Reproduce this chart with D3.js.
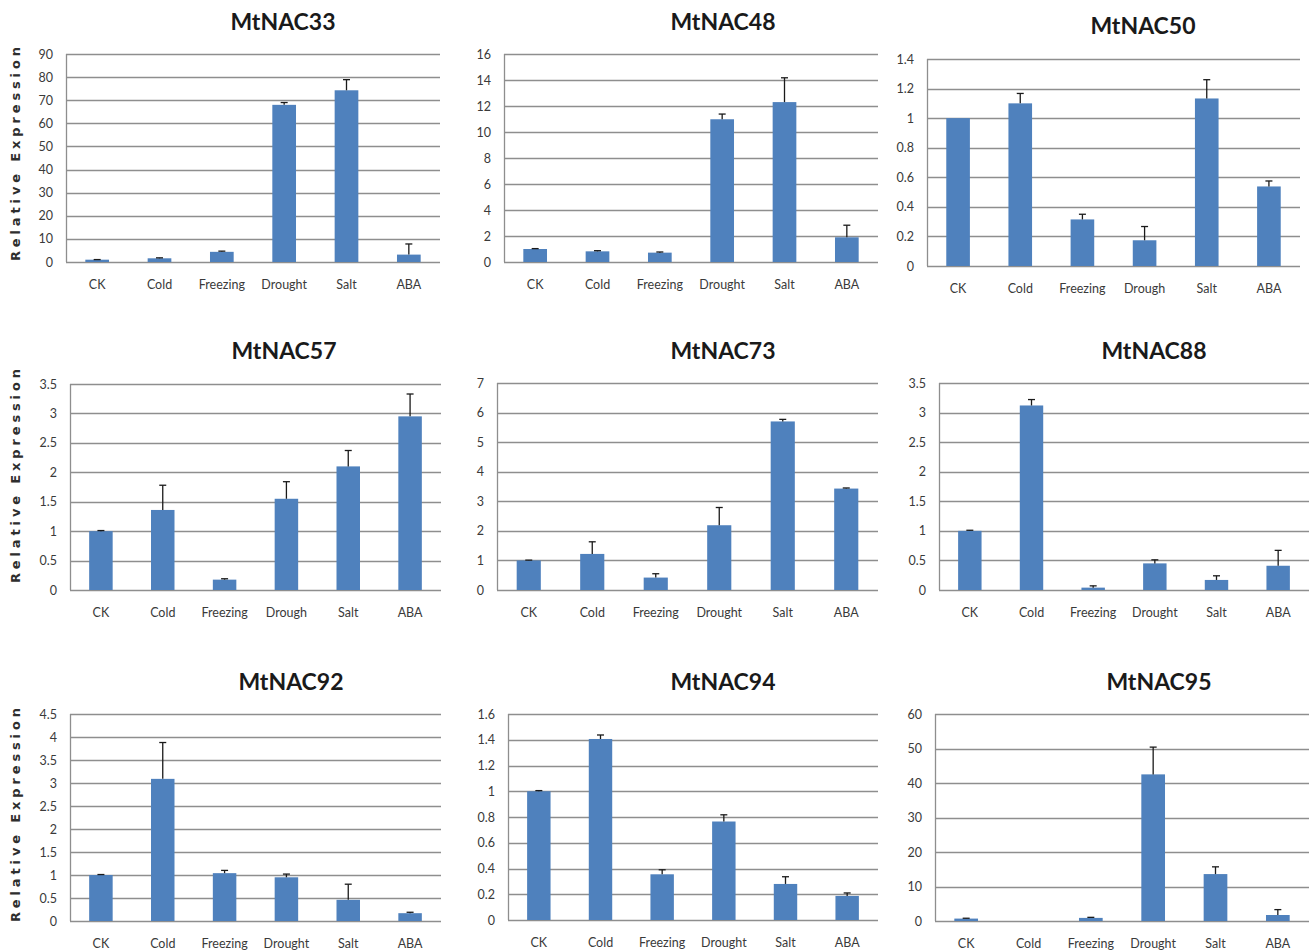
<!DOCTYPE html>
<html>
<head>
<meta charset="utf-8">
<script src="https://cdn.jsdelivr.net/npm/d3@7"></script>
<style>
  html, body { margin: 0; padding: 0; background: #fff; }
  svg { display: block; }
</style>
</head>
<body>
<svg id="chart" width="1309" height="952"></svg>
<script>
// Treatments on the x axis
const categories = ["CK", "Cold", "Freezing", "Drought", "Salt", "ABA"];
const categoriesAlt = ["CK", "Cold", "Freezing", "Drough", "Salt", "ABA"];

// Gene names (panel titles)
const genes = ["MtNAC33", "MtNAC48", "MtNAC50", "MtNAC57", "MtNAC73", "MtNAC88", "MtNAC92", "MtNAC94", "MtNAC95"];

// Relative expression means and standard errors per gene
const mtnac33 = [1.0, 1.6, 4.4, 68.0, 74.3, 3.2];
const mtnac33Err = [0.05, 0.2, 0.3, 1.0, 4.6, 4.6];
const mtnac48 = [1.0, 0.82, 0.72, 10.98, 12.3, 1.9];
const mtnac48Err = [0.03, 0.05, 0.05, 0.4, 1.87, 0.93];
const mtnac50 = [1.0, 1.10, 0.315, 0.174, 1.133, 0.538];
const mtnac50Err = [0.0, 0.067, 0.035, 0.093, 0.127, 0.037];
const mtnac57 = [1.0, 1.36, 0.176, 1.55, 2.10, 2.95];
const mtnac57Err = [0.01, 0.42, 0.015, 0.29, 0.27, 0.38];
const mtnac73 = [1.0, 1.22, 0.42, 2.19, 5.70, 3.43];
const mtnac73Err = [0.01, 0.41, 0.13, 0.60, 0.07, 0.02];
const mtnac88 = [1.0, 3.12, 0.04, 0.45, 0.17, 0.41];
const mtnac88Err = [0.01, 0.10, 0.03, 0.06, 0.07, 0.26];
const mtnac92 = [1.0, 3.09, 1.04, 0.95, 0.46, 0.17];
const mtnac92Err = [0.01, 0.79, 0.06, 0.07, 0.34, 0.02];
const mtnac94 = [1.0, 1.406, 0.355, 0.765, 0.28, 0.187];
const mtnac94Err = [0.005, 0.031, 0.035, 0.052, 0.056, 0.023];
const mtnac95 = [0.7, 0, 0.9, 42.5, 13.6, 1.74];
const mtnac95Err = [0.1, 0, 0.16, 7.9, 2.1, 1.56];

// Y-axis tick labels per gene
const ticks33 = [0, 10, 20, 30, 40, 50, 60, 70, 80, 90];
const ticks48 = [0, 2, 4, 6, 8, 10, 12, 14, 16];
const ticks50 = [0, 0.2, 0.4, 0.6, 0.8, 1, 1.2, 1.4];
const ticks57 = [0, 0.5, 1, 1.5, 2, 2.5, 3, 3.5];
const ticks73 = [0, 1, 2, 3, 4, 5, 6, 7];
const ticks88 = [0, 0.5, 1, 1.5, 2, 2.5, 3, 3.5];
const ticks92 = [0, 0.5, 1, 1.5, 2, 2.5, 3, 3.5, 4, 4.5];
const ticks94 = [0, 0.2, 0.4, 0.6, 0.8, 1, 1.2, 1.4, 1.6];
const ticks95 = [0, 10, 20, 30, 40, 50, 60];

const panels = [
  { gene: genes[0], labels: categories,    values: mtnac33, errors: mtnac33Err, ticks: ticks33 },
  { gene: genes[1], labels: categories,    values: mtnac48, errors: mtnac48Err, ticks: ticks48 },
  { gene: genes[2], labels: categoriesAlt, values: mtnac50, errors: mtnac50Err, ticks: ticks50 },
  { gene: genes[3], labels: categoriesAlt, values: mtnac57, errors: mtnac57Err, ticks: ticks57 },
  { gene: genes[4], labels: categories,    values: mtnac73, errors: mtnac73Err, ticks: ticks73 },
  { gene: genes[5], labels: categories,    values: mtnac88, errors: mtnac88Err, ticks: ticks88 },
  { gene: genes[6], labels: categories,    values: mtnac92, errors: mtnac92Err, ticks: ticks92 },
  { gene: genes[7], labels: categories,    values: mtnac94, errors: mtnac94Err, ticks: ticks94 },
  { gene: genes[8], labels: categories,    values: mtnac95, errors: mtnac95Err, ticks: ticks95 }
];

// Plot frames (pixel layout of each small multiple)
const frames = [
  { left: 66,  top: 54,  right: 440,  bottom: 262, tx: 283,  ty: 30 },
  { left: 504, top: 54,  right: 878,  bottom: 262, tx: 723,  ty: 30 },
  { left: 927, top: 59,  right: 1300, bottom: 266, tx: 1143, ty: 34 },
  { left: 70,  top: 384, right: 441,  bottom: 590, tx: 284,  ty: 359 },
  { left: 497, top: 383, right: 878,  bottom: 590, tx: 723,  ty: 359 },
  { left: 939, top: 383, right: 1309, bottom: 590, tx: 1154, ty: 359 },
  { left: 70,  top: 714, right: 441,  bottom: 921, tx: 291,  ty: 690 },
  { left: 508, top: 714, right: 878,  bottom: 920, tx: 723,  ty: 690 },
  { left: 935, top: 714, right: 1309, bottom: 921, tx: 1159, ty: 690 }
];
const yLabelCenters = [154, 476, 815];

const BAR = "#4f81bd";
const GRID = "#8e8e8e";
const TEXT = "#3a3a3a";
const FONT = "Lato, 'Open Sans', sans-serif";

const svg = d3.select("#chart");

panels.forEach((p, i) => {
  const f = frames[i];
  const g = svg.append("g");

  const x = d3.scaleBand()
    .domain(d3.range(p.labels.length))
    .range([f.left, f.right])
    .paddingInner(0.62)
    .paddingOuter(0.31);

  const y = d3.scaleLinear()
    .domain([0, d3.max(p.ticks)])
    .range([f.bottom, f.top]);

  // gridlines
  g.selectAll("line.grid")
    .data(p.ticks)
    .join("line")
    .attr("class", "grid")
    .attr("x1", f.left).attr("x2", f.right)
    .attr("y1", d => Math.round(y(d)) + 0.5)
    .attr("y2", d => Math.round(y(d)) + 0.5)
    .attr("stroke", GRID)
    .attr("stroke-width", 1.3);

  // y axis line
  g.append("line")
    .attr("x1", f.left + 0.5).attr("x2", f.left + 0.5)
    .attr("y1", y(d3.max(p.ticks))).attr("y2", f.bottom)
    .attr("stroke", GRID)
    .attr("stroke-width", 1.3);

  // y tick labels
  const yAxis = d3.axisLeft(y)
    .tickValues(p.ticks)
    .tickSize(0)
    .tickPadding(13)
    .tickFormat(d3.format("~g"));
  const ya = g.append("g")
    .attr("transform", `translate(${f.left},0)`)
    .call(yAxis);
  ya.select(".domain").remove();
  ya.selectAll("text")
    .attr("font-family", FONT)
    .attr("font-size", 12.5)
    .attr("fill", TEXT);

  // bars
  g.selectAll("rect.bar")
    .data(p.values)
    .join("rect")
    .attr("class", "bar")
    .attr("x", (d, k) => x(k))
    .attr("width", x.bandwidth())
    .attr("y", d => y(d))
    .attr("height", d => y(0) - y(d))
    .attr("fill", BAR);

  // error bars (upper whisker only)
  const cx = k => x(k) + x.bandwidth() / 2;
  const eb = g.selectAll("g.err")
    .data(p.values.map((v, k) => ({ v, e: p.errors[k], k })).filter(d => d.e > 0))
    .join("g")
    .attr("class", "err");
  eb.append("line")
    .attr("x1", d => cx(d.k)).attr("x2", d => cx(d.k))
    .attr("y1", d => y(d.v)).attr("y2", d => y(d.v + d.e))
    .attr("stroke", "#1a1a1a").attr("stroke-width", 1.3);
  eb.append("line")
    .attr("x1", d => cx(d.k) - 3.5).attr("x2", d => cx(d.k) + 3.5)
    .attr("y1", d => y(d.v + d.e)).attr("y2", d => y(d.v + d.e))
    .attr("stroke", "#1a1a1a").attr("stroke-width", 1.3);

  // x category labels
  const xAxis = d3.axisBottom(x)
    .tickSize(0)
    .tickPadding(18)
    .tickFormat(k => p.labels[k]);
  const xa = g.append("g")
    .attr("transform", `translate(0,${f.bottom})`)
    .call(xAxis);
  xa.select(".domain").remove();
  xa.selectAll("text")
    .attr("font-family", FONT)
    .attr("font-size", 12.5)
    .attr("fill", TEXT);

  // title
  g.append("text")
    .attr("x", f.tx).attr("y", f.ty)
    .attr("text-anchor", "middle")
    .attr("font-family", FONT)
    .attr("font-weight", "bold")
    .attr("font-size", 23)
    .attr("fill", "#1a1a1a")
    .text(p.gene);
});

// shared y-axis title on each row
svg.selectAll("text.ylab")
  .data(yLabelCenters)
  .join("text")
  .attr("class", "ylab")
  .attr("transform", d => `translate(20,${d}) rotate(-90)`)
  .attr("text-anchor", "middle")
  .attr("font-family", "'DejaVu Sans', sans-serif")
  .attr("font-weight", "bold")
  .attr("font-size", 13)
  .attr("fill", "#2e2e2e")
  .attr("textLength", 214)
  .attr("lengthAdjust", "spacing")
  .text("Relative Expression");
</script>
</body>
</html>
